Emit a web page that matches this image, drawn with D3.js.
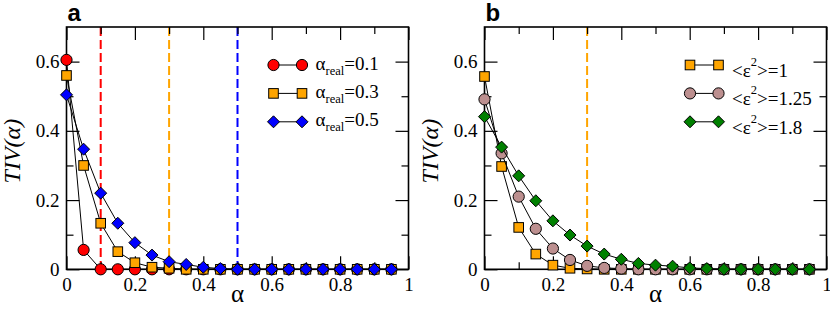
<!DOCTYPE html>
<meta charset="utf-8">
<script src="https://d3js.org/d3.v7.min.js"></script>
<style>
  body { margin: 0; background: #fff; }
  svg text { font-family: "Liberation Serif", "Times New Roman", Times, serif; }
</style>
<body>
<div id="chart"></div>
<script>

// alpha grid shared by every curve
var alphaGrid = [0, 0.05, 0.1, 0.15, 0.2, 0.25, 0.3, 0.35, 0.4, 0.45,
                 0.5, 0.55, 0.6, 0.65, 0.7, 0.75, 0.8, 0.85, 0.9, 0.95];

// panel a : TIV(alpha) for three real alphas
var tivReal01 = [0.605, 0.056, 0, 0, 0, 0, 0, 0, 0, 0, 0, 0, 0, 0, 0, 0, 0, 0, 0, 0];
var tivReal03 = [0.56, 0.30, 0.133, 0.051, 0.019, 0.006, 0.003, 0, 0, 0, 0, 0, 0, 0, 0, 0, 0, 0, 0, 0];
var tivReal05 = [0.504, 0.347, 0.22, 0.133, 0.077, 0.041, 0.022, 0.014, 0.006, 0.002, 0, 0, 0, 0, 0, 0, 0, 0, 0, 0];
var realAlphas = [0.1, 0.3, 0.5];

// panel b : TIV(alpha) for three noise levels
var tivEps1   = [0.557, 0.297, 0.121, 0.044, 0.012, 0.003, 0.001, 0, 0, 0, 0, 0, 0, 0, 0, 0, 0, 0, 0, 0];
var tivEps125 = [0.491, 0.335, 0.21, 0.117, 0.06, 0.027, 0.01, 0.004, 0.002, 0, 0, 0, 0, 0, 0, 0, 0, 0, 0, 0];
var tivEps18  = [0.441, 0.353, 0.27, 0.198, 0.14, 0.099, 0.067, 0.044, 0.029, 0.017, 0.012, 0.009, 0.004, 0.002, 0, 0, 0, 0, 0, 0];
var epsLabels = ["1", "1.25", "1.8"];
var markLinesB = [0.3];

// ticks
var xMajor = [0, 0.2, 0.4, 0.6, 0.8, 1];
var xMinor = [0.1, 0.3, 0.5, 0.7, 0.9];
var xTickLabels = ["0", "0.2", "0.4", "0.6", "0.8", "1"];
var yMajor = [0, 0.2, 0.4, 0.6];
var yMinor = [0.1, 0.3, 0.5];
var yTickLabels = ["0", "0.2", "0.4", "0.6"];

var W = 830, H = 311;
var SERIF = '"Liberation Serif", "Times New Roman", Times, serif';
var svg = d3.select("#chart").append("svg")
  .attr("width", W).attr("height", H);

var plotTop = 27, plotBottom = 269.3;

function marker(g, shape, fill, x, y) {
  if (shape == "circle") {
    g.append("circle").attr("cx", x).attr("cy", y).attr("r", 5.6)
      .attr("fill", fill).attr("stroke", "#000").attr("stroke-width", 1);
  } else if (shape == "square") {
    g.append("rect").attr("x", x - 4.8).attr("y", y - 4.8)
      .attr("width", 9.6).attr("height", 9.6)
      .attr("fill", fill).attr("stroke", "#000").attr("stroke-width", 1);
  } else {
    var r = 6;
    g.append("path")
      .attr("d", "M" + x + "," + (y - r) + "L" + (x + r) + "," + y + "L" + x + "," + (y + r) + "L" + (x - r) + "," + y + "Z")
      .attr("fill", fill).attr("stroke", "#000").attr("stroke-width", 1);
  }
}

function drawPanel(opt) {
  var x = d3.scaleLinear().domain([0, 1]).range([opt.left, opt.right]);
  var y = d3.scaleLinear().domain([0, 0.7]).range([plotBottom, plotTop]);
  var g = svg.append("g");

  // dashed markers of real alpha
  opt.vlines.forEach(function(v) {
    g.append("line")
      .attr("x1", x(v.at)).attr("x2", x(v.at))
      .attr("y1", plotTop).attr("y2", plotBottom)
      .attr("stroke", v.color).attr("stroke-width", 2)
      .attr("stroke-dasharray", "9,4");
  });

  // axes (ticks point inward)
  function ax(axisFn, scale, vals, size, labels, pad, transform) {
    var a = axisFn(scale).tickValues(vals).tickSizeInner(size).tickSizeOuter(0);
    if (labels) a.tickFormat(function(d, i) { return labels[i]; }).tickPadding(pad);
    else a.tickFormat("");
    var s = g.append("g").attr("transform", transform).call(a)
      .attr("font-family", null).attr("font-size", null);
    s.select(".domain").remove();
    s.selectAll("line").attr("stroke", "#000").attr("stroke-width", 1.2);
    s.selectAll("text").style("font-family", SERIF).style("font-size", "19px").attr("fill", "#000");
  }
  ax(d3.axisBottom, x, xMajor, -13, xTickLabels, 8, "translate(0," + plotBottom + ")");
  ax(d3.axisBottom, x, xMinor, -7, null, 0, "translate(0," + plotBottom + ")");
  ax(d3.axisTop, x, xMajor, -13, null, 0, "translate(0," + plotTop + ")");
  ax(d3.axisTop, x, xMinor, -7, null, 0, "translate(0," + plotTop + ")");
  ax(d3.axisLeft, y, yMajor, -13, yTickLabels, 7, "translate(" + opt.left + ",0)");
  ax(d3.axisLeft, y, yMinor, -7, null, 0, "translate(" + opt.left + ",0)");
  ax(d3.axisRight, y, yMajor, -13, null, 0, "translate(" + opt.right + ",0)");
  ax(d3.axisRight, y, yMinor, -7, null, 0, "translate(" + opt.right + ",0)");

  g.append("rect")
    .attr("x", opt.left).attr("y", plotTop)
    .attr("width", opt.right - opt.left).attr("height", plotBottom - plotTop)
    .attr("fill", "none").attr("stroke", "#000").attr("stroke-width", 1.6);

  // curves
  var line = d3.line().x(function(d, i) { return x(alphaGrid[i]); }).y(function(d) { return y(d); });
  opt.series.forEach(function(s) {
    g.append("path").datum(s.values).attr("d", line)
      .attr("fill", "none").attr("stroke", "#000").attr("stroke-width", 1);
    var mg = g.append("g");
    s.values.forEach(function(v, i) { marker(mg, s.shape, s.color, x(alphaGrid[i]), y(v)); });
  });

  // legend
  opt.series.forEach(function(s, i) {
    var ly = 65 + i * 28.4;
    g.append("line").attr("x1", opt.legX).attr("x2", opt.legX + 28.5)
      .attr("y1", ly).attr("y2", ly).attr("stroke", "#000").attr("stroke-width", 1);
    marker(g, s.shape, s.color, opt.legX, ly);
    marker(g, s.shape, s.color, opt.legX + 28.5, ly);
    s.label(g.append("text").attr("x", opt.legX + 42)
      .style("font-family", SERIF).style("font-size", "19px"), ly);
  });

  // axis titles and panel letter
  g.append("text").attr("x", (opt.left + opt.right) / 2).attr("y", 302)
    .attr("text-anchor", "middle")
    .style("font-family", SERIF).style("font-size", "25px").text("α");
  g.append("text")
    .attr("transform", "translate(" + (opt.left - 47) + "," + ((plotTop + plotBottom) / 2 + 3) + ") rotate(-90)")
    .attr("text-anchor", "middle")
    .style("font-family", SERIF).style("font-size", "24px").style("font-style", "italic")
    .text("TIV(α)");
  g.append("text").attr("x", opt.left + 1).attr("y", 21)
    .style("font-family", '"Liberation Sans", Arial, sans-serif')
    .style("font-weight", "bold").style("font-size", "24px")
    .text(opt.letter);
}

var colorsA = ["#ff0000", "#ffa500", "#0000ff"];
drawPanel({
  left: 66.5, right: 408.5, letter: "a", legX: 273.5,
  vlines: realAlphas.map(function(a, i) { return {at: a, color: colorsA[i]}; }),
  series: [tivReal01, tivReal03, tivReal05].map(function(vals, i) {
    return {
      values: vals, color: colorsA[i], shape: ["circle", "square", "diamond"][i],
      label: function(t, ly) {
        t.attr("y", ly + 4.5);
        t.append("tspan").text("α");
        t.append("tspan").attr("dy", 5).style("font-size", "12.5px").text("real");
        t.append("tspan").attr("dy", -5).text("=" + realAlphas[i]);
      }
    };
  })
});

var colorsB = ["#ffa500", "#bc8f8f", "#008000"];
drawPanel({
  left: 484.5, right: 826.5, letter: "b", legX: 690,
  vlines: markLinesB.map(function(a) { return {at: a, color: "#ffa500"}; }),
  series: [tivEps1, tivEps125, tivEps18].map(function(vals, i) {
    return {
      values: vals, color: colorsB[i], shape: ["square", "circle", "diamond"][i],
      label: function(t, ly) {
        t.attr("y", ly + 12);
        t.append("tspan").text("<ε");
        t.append("tspan").attr("dy", -11).style("font-size", "12.5px").text("2");
        t.append("tspan").attr("dy", 11).text(">=" + epsLabels[i]);
      }
    };
  })
});

</script>
</body>
